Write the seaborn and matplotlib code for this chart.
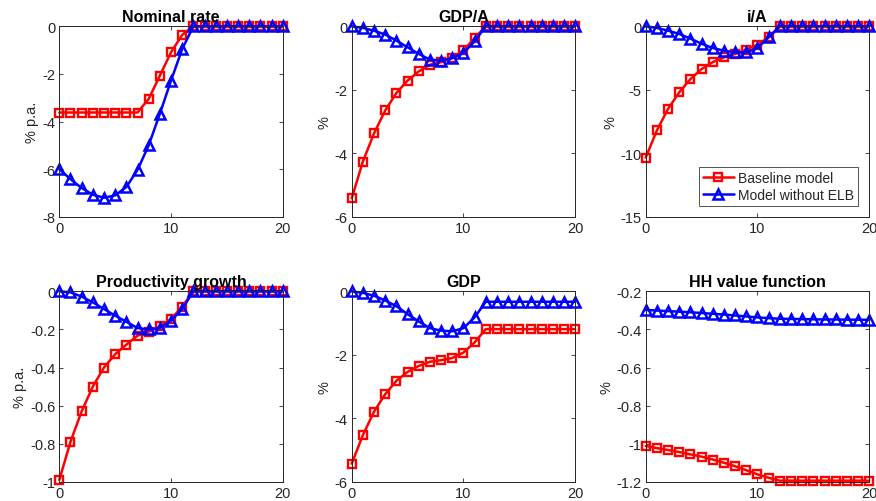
import numpy as np
import pandas as pd
import matplotlib
matplotlib.use("Agg")
import matplotlib.pyplot as plt
from matplotlib.ticker import FormatStrFormatter
import seaborn as sns

sns.set_style("ticks")
plt.rcParams['font.family'] = ['Liberation Sans', 'DejaVu Sans']
plt.rcParams['axes.unicode_minus'] = False

t = list(range(21))
labels = ["Baseline model", "Model without ELB"]

titles = ["Nominal rate", "GDP/A", "i/A", "Productivity growth", "GDP", "HH value function"]
ylabels = ["% p.a.", "%", "%", "% p.a.", "%", "%"]

# impulse responses: baseline (with ELB) and model without ELB
nom_base = [-3.62] * 8 + [-3.05, -2.07, -1.09, -0.36] + [0.0] * 9
nom_noelb = [-6.0, -6.42, -6.79, -7.07, -7.2, -7.1, -6.75, -6.03, -5.0, -3.67, -2.28, -0.95] + [0.0] * 9

gdpa_base = [-5.42, -4.26, -3.37, -2.65, -2.1, -1.71, -1.42, -1.21, -1.13, -1.0, -0.76, -0.37] + [0.0] * 9
gdpa_noelb = [0.0, -0.05, -0.14, -0.26, -0.45, -0.66, -0.87, -1.05, -1.08, -1.0, -0.84, -0.47] + [0.0] * 9

ia_base = [-10.34, -8.2, -6.5, -5.2, -4.16, -3.37, -2.82, -2.45, -2.18, -1.84, -1.45, -0.87] + [0.0] * 9
ia_noelb = [0.0, -0.13, -0.34, -0.6, -0.97, -1.37, -1.71, -1.92, -2.05, -2.05, -1.71, -0.87] + [0.0] * 9

prod_base = [-0.99, -0.79, -0.63, -0.5, -0.4, -0.33, -0.28, -0.233, -0.212, -0.184, -0.146, -0.08] + [0.0] * 9
prod_noelb = [0.0, -0.005, -0.028, -0.058, -0.093, -0.128, -0.16, -0.193, -0.2, -0.193, -0.154, -0.093] + [0.0] * 9

gdp_base = [-5.43, -4.53, -3.79, -3.24, -2.82, -2.54, -2.35, -2.22, -2.17, -2.1, -1.93, -1.61] + [-1.19] * 9
gdp_noelb = [0.0, -0.05, -0.14, -0.29, -0.47, -0.72, -0.95, -1.16, -1.24, -1.26, -1.16, -0.82] + [-0.33] * 9

hh_base = [-1.012, -1.023, -1.033, -1.044, -1.056, -1.068, -1.083, -1.1, -1.118, -1.139, -1.161, -1.179] + [-1.194] * 9
hh_noelb = [-0.298, -0.301, -0.304, -0.307, -0.31, -0.314, -0.318, -0.322, -0.327, -0.332, -0.337, -0.341,
            -0.344, -0.345, -0.346, -0.347, -0.348, -0.348, -0.349, -0.349, -0.35]

series = [(nom_base, nom_noelb), (gdpa_base, gdpa_noelb), (ia_base, ia_noelb),
          (prod_base, prod_noelb), (gdp_base, gdp_noelb), (hh_base, hh_noelb)]
yticks = [[-8, -6, -4, -2, 0], [-6, -4, -2, 0], [-15, -10, -5, 0],
          [-1, -0.8, -0.6, -0.4, -0.2, 0], [-6, -4, -2, 0], [-1.2, -1, -0.8, -0.6, -0.4, -0.2]]

fig = plt.figure(figsize=(8.76, 5.02), dpi=100)
W, H = 876.0, 502.0
lefts = [59.3, 351.7, 645.7]
tops = [27.3, 292.3]
aw, ah = 223.5, 190.5

for i in range(6):
    r, c = divmod(i, 3)
    ax = fig.add_axes([lefts[c] / W, 1 - (tops[r] + ah) / H, aw / W, ah / H])
    base, noelb = series[i]
    df = pd.DataFrame({"t": t, labels[0]: base, labels[1]: noelb})
    sns.lineplot(data=df, x="t", y=labels[0], ax=ax, color=(1, 0, 0), lw=1.8,
                 marker="s", ms=5.2, mfc="none", mec=(1, 0, 0), mew=1.7, clip_on=False,
                 label=labels[0], legend=False)
    sns.lineplot(data=df, x="t", y=labels[1], ax=ax, color=(0, 0, 1), lw=1.8,
                 marker="^", ms=7.8, mfc="none", mec=(0, 0, 1), mew=1.8, clip_on=False,
                 label=labels[1], legend=False)
    ax.set_xlim(0, 20)
    ax.set_ylim(yticks[i][0], yticks[i][-1])
    ax.set_xticks([0, 10, 20])
    ax.set_yticks(yticks[i])
    ax.yaxis.set_major_formatter(FormatStrFormatter("%g"))
    ax.set_xlabel("")
    ax.set_ylabel(ylabels[i], fontsize=10.5, color="#262626", labelpad=2)
    ax.set_title(titles[i], fontsize=11.5, fontweight="bold", color="black", pad=4)
    ax.tick_params(direction="in", length=3, width=0.6, top=True, right=True,
                   labelsize=10.5, colors="#262626", pad=3)
    for s in ax.spines.values():
        s.set_visible(True)
        s.set_linewidth(0.7)
        s.set_color("#262626")
    if i == 2:
        leg = ax.legend(loc="lower right", fontsize=10, frameon=True, fancybox=False,
                        borderpad=0.3, handlelength=2.2, handletextpad=0.3,
                        labelspacing=0.2, borderaxespad=0.8)
        leg.get_frame().set_edgecolor("#262626")
        leg.get_frame().set_linewidth(0.7)

fig.savefig("out.png", dpi=100)
